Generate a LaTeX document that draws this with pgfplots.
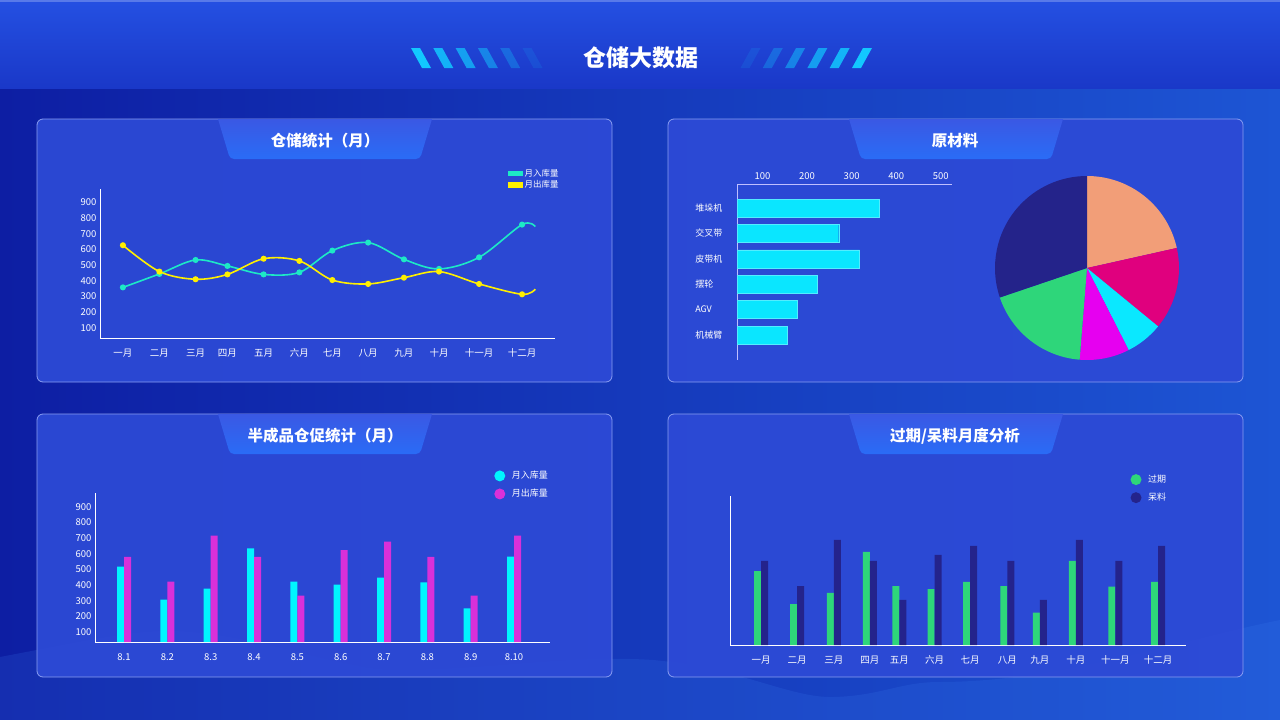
\documentclass[border=0pt]{standalone}
\usepackage{pgfplots}
\pgfplotsset{compat=1.18}
\usepackage{fontspec}
\setmainfont{Noto Sans CJK SC}

\definecolor{bgL}{HTML}{0D1EA3}
\definecolor{bgR}{HTML}{1D55D4}
\definecolor{wave}{HTML}{3A7CF0}
\definecolor{barT}{HTML}{2450E2}
\definecolor{barB}{HTML}{1A38C8}
\definecolor{panel}{HTML}{2D4AD6}
\definecolor{panelline}{HTML}{8A9EF2}
\definecolor{tabT}{HTML}{3A58E4}
\definecolor{tabB}{HTML}{2A6CF6}
\definecolor{stripe}{HTML}{12C8FF}
\definecolor{inT}{HTML}{1DE9C6}
\definecolor{outY}{HTML}{FFEF00}
\definecolor{rawC}{HTML}{0AE6FF}
\definecolor{semiC}{HTML}{00F5FF}
\definecolor{semiM}{HTML}{D930D9}
\definecolor{expG}{HTML}{2ED67A}
\definecolor{deadN}{HTML}{24238C}
\definecolor{pSal}{HTML}{F29E78}
\definecolor{pRed}{HTML}{E0007E}
\definecolor{pCya}{HTML}{0AE8FF}
\definecolor{pMag}{HTML}{E600F0}
\definecolor{pGrn}{HTML}{2ED67A}
\definecolor{pNav}{HTML}{24238A}

\pgfplotsset{
  dash/.style={
    scale only axis,
    axis line style={-, white, line width=0.9pt},
    tick style={draw=none},
    ticklabel style={font=\fontsize{9.5}{10}\selectfont, text=white},
    /pgf/number format/assume math mode=true,
    legend style={draw=none, fill=none, text=white,
      font=\fontsize{9}{10}\selectfont, legend cell align=left,
      row sep=2pt, inner sep=0pt},
  },
  dot legend/.style={legend image code/.code={
    \fill[#1] (0pt,0pt) circle (5.5pt); \path (10pt,0pt);}},
}

\begin{document}
\begin{tikzpicture}
\begin{scope}[x=1pt,y=-1pt]
  % background
  \shade[left color=bgL, right color=bgR] (0,0) rectangle (1280,720);
  \fill[wave, opacity=0.18] (0,657) .. controls (90,640) and (140,628) .. (188,632)
    .. controls (280,640) and (340,672) .. (408,670)
    .. controls (500,668) and (580,655) .. (653,660)
    .. controls (740,668) and (790,698) .. (833,697)
    .. controls (880,696) and (900,682) .. (939,682)
    .. controls (1060,682) and (1180,640) .. (1280,620) -- (1280,720) -- (0,720) -- cycle;
  % title bar
  \shade[top color=barT, bottom color=barB] (0,0) rectangle (1280,88);
  \fill[barT!60!white, opacity=0.6] (0,0) rectangle (1280,2);
  \node[text=white, font=\bfseries\fontsize{23}{24}\selectfont] at (641,58) {仓储大数据};
  \foreach \i/\o in {0/1,1/0.85,2/0.7,3/0.5,4/0.3,5/0.12} {
    \fill[stripe, opacity=\o] ({411+22.3*\i},48) -- ++(9,0) -- ++(11,20) -- ++(-9,0) -- cycle;
    \fill[stripe, opacity=\o] ({852-22.3*\i},68) -- ++(9,0) -- ++(11,-20) -- ++(-9,0) -- cycle;
  }
  % panels
  \foreach \x/\y in {37/119, 668/119, 37/414, 668/414} {
    \draw[panelline, line width=0.8pt, fill=panel, fill opacity=0.93, rounded corners=6pt]
      (\x,\y) rectangle ++(575,263);
    \shade[top color=tabT, bottom color=tabB]
      ({\x+181},\y) -- ({\x+395},\y) [rounded corners=4pt] -- ({\x+383},{\y+40}) -- ({\x+193},{\y+40}) [sharp corners] -- cycle;
  }
  \node[text=white, font=\bfseries\fontsize{15.5}{16}\selectfont] at (325,141) {仓储统计（月）};
  \node[text=white, font=\bfseries\fontsize{15.5}{16}\selectfont] at (955,141) {原材料};
  \node[text=white, font=\bfseries\fontsize{15.5}{16}\selectfont] at (325,436) {半成品仓促统计（月）};
  \node[text=white, font=\bfseries\fontsize{15.5}{16}\selectfont] at (955,436) {过期/呆料月度分析};
\end{scope}

% ---- chart 1: 仓储统计（月）
\begin{axis}[dash, at={(100pt,-338pt)}, anchor=south west,
  width=455pt, height=149pt,
  xmin=0.36, xmax=13.07, ymin=34, ymax=985,
  axis x line*=bottom, axis y line*=left,
  ytick={100,200,...,900},
  xtick={1,2.02,3.03,3.92,4.93,5.93,6.85,7.85,8.85,9.83,10.95,12.15},
  xticklabels={一月,二月,三月,四月,五月,六月,七月,八月,九月,十月,十一月,十二月},
  xticklabel style={yshift=-7pt},
  legend style={at={(1.013,1.148)}, anchor=north east, row sep=-1pt,
    font=\fontsize{8.5}{9}\selectfont},
  clip=false]
\addplot[inT, line width=1.6pt, smooth, tension=0.55, mark=*, mark size=2.2pt,
  mark indices={1,...,12},
  legend image code/.code={\fill[inT] (0pt,-2pt) rectangle (13pt,2pt);}]
  coordinates {(1,357)(2.02,443)(3.03,532)(3.92,494)(4.93,440)(5.93,453)
    (6.85,592)(7.85,643)(8.85,536)(9.83,475)(10.95,549)(12.15,758)(12.52,745)};
\addlegendentry{月入库量}
\addplot[outY, line width=1.6pt, smooth, tension=0.55, mark=*, mark size=2.2pt,
  mark indices={1,...,12},
  legend image code/.code={\fill[outY] (0pt,-2pt) rectangle (13pt,2pt);}]
  coordinates {(1,626)(2.02,458)(3.03,409)(3.92,440)(4.93,540)(5.93,526)
    (6.85,404)(7.85,379)(8.85,419)(9.83,458)(10.95,379)(12.15,313)(12.52,345)};
\addlegendentry{月出库量}
\end{axis}

% ---- chart 2: 原材料 bars
\begin{axis}[dash, at={(737pt,-360pt)}, anchor=south west,
  width=215pt, height=176pt,
  xbar, bar width=18pt,
  xmin=43, xmax=525, ymin=-0.945, ymax=5.98, y dir=reverse,
  axis x line*=top, axis y line*=left,
  axis line style={-, white!75!blue, line width=1pt},
  xtick={100,200,...,500},
  ytick={0,...,5},
  yticklabels={堆垛机,交叉带,皮带机,摆轮,AGV,机械臂},
  yticklabel style={anchor=west, xshift=-41pt, font=\fontsize{9}{10}\selectfont},
  xticklabel style={yshift=1pt}]
\addplot[fill=rawC, draw=rawC!70!white] coordinates
  {(362,0)(271,1)(318,2)(222,3)(178,4)(156,5)};
\end{axis}

% ---- chart 2b: pie (clockwise from 12 o'clock; shares in %: 21.5 14.4 6.6 8.75 18.5 30.25)
\begin{axis}[hide axis, scale only axis, width=184pt, height=184pt,
  xmin=-1, xmax=1, ymin=-1, ymax=1, at={(1087pt,-268pt)}, anchor=center]
\fill[pSal] (axis cs:0,0) -- (axis cs:0,1) arc[start angle=90, end angle=12.6, radius=92pt] -- cycle;
\fill[pRed] (axis cs:0,0) -- (axis cs:0.9759,0.2181) arc[start angle=12.6, end angle=-39.4, radius=92pt] -- cycle;
\fill[pCya] (axis cs:0,0) -- (axis cs:0.7727,-0.6347) arc[start angle=-39.4, end angle=-63.1, radius=92pt] -- cycle;
\fill[pMag] (axis cs:0,0) -- (axis cs:0.4524,-0.8918) arc[start angle=-63.1, end angle=-94.6, radius=92pt] -- cycle;
\fill[pGrn] (axis cs:0,0) -- (axis cs:-0.0802,-0.9968) arc[start angle=-94.6, end angle=-161.3, radius=92pt] -- cycle;
\fill[pNav] (axis cs:0,0) -- (axis cs:-0.9472,-0.3206) arc[start angle=-161.3, end angle=-270, radius=92pt] -- cycle;
\end{axis}

% ---- chart 3: 半成品仓促统计（月）
\begin{axis}[dash, at={(95pt,-642pt)}, anchor=south west,
  width=455pt, height=149pt,
  ybar=0pt, bar width=7pt,
  xmin=0.33, xmax=10.83, ymin=36, ymax=989,
  axis x line*=bottom, axis y line*=left,
  ytick={100,200,...,900},
  xtick={1,...,10},
  xticklabels={8.1,8.2,8.3,8.4,8.5,8.6,8.7,8.8,8.9,8.10},
  xticklabel style={yshift=-4pt},
  legend style={at={(1.0,1.16)}, anchor=north east, row sep=5pt}]
\addplot[fill=semiC, draw=none, dot legend=semiC]
  coordinates {(1,518)(2,307)(3,377)(4,635)(5,422)(6,403)(7,448)(8,418)(9,251)(10,582)};
\addlegendentry{月入库量}
\addplot[fill=semiM, draw=none, dot legend=semiM]
  coordinates {(1,580)(2,422)(3,716)(4,580)(5,332)(6,623)(7,678)(8,580)(9,332)(10,716)};
\addlegendentry{月出库量}
\end{axis}

% ---- chart 4: 过期/呆料月度分析
\begin{axis}[dash, at={(730pt,-645pt)}, anchor=south west,
  width=456pt, height=149pt,
  ybar=0pt, bar width=7pt,
  xmin=0.12, xmax=13.04, ymin=0, ymax=993,
  axis x line*=bottom, axis y line*=left,
  ytick=\empty,
  xtick={1,2.02,3.06,4.08,4.92,5.92,6.92,7.98,8.9,9.92,11.04,12.25},
  xticklabels={一月,二月,三月,四月,五月,六月,七月,八月,九月,十月,十一月,十二月},
  xticklabel style={yshift=-3pt},
  legend style={at={(0.961,1.155)}, anchor=north east, row sep=5pt}]
\addplot[fill=expG, draw=none, dot legend=expG]
  coordinates {(1,493)(2.02,273)(3.06,347)(4.08,620)(4.92,393)(5.92,373)
    (6.92,420)(7.98,393)(8.9,215)(9.92,560)(11.04,389)(12.25,420)};
\addlegendentry{过期}
\addplot[fill=deadN, draw=none, dot legend=deadN]
  coordinates {(1,560)(2.02,393)(3.06,700)(4.08,560)(4.92,300)(5.92,600)
    (6.92,660)(7.98,560)(8.9,300)(9.92,700)(11.04,560)(12.25,660)};
\addlegendentry{呆料}
\end{axis}
\end{tikzpicture}
\end{document}
